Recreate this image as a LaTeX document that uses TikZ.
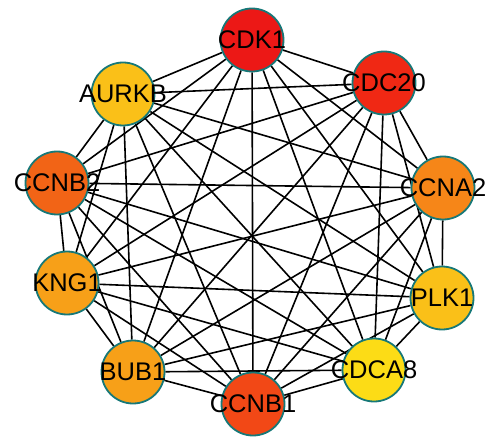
\documentclass[tikz,border=0pt]{standalone}
\usepackage{fontspec}
\setmainfont{Liberation Sans}
\usetikzlibrary{backgrounds}

\tikzset{
  gene/.style={circle, draw=teal, line width=1.8pt, minimum size=63pt, inner sep=0pt},
  genetext/.style={font=\fontsize{25.5}{26}\selectfont, text=black, inner sep=0pt},
  edge/.style={draw=black, line width=1.6pt}
}

\begin{document}
\begin{tikzpicture}[x=1pt, y=-1pt]

% Colors
\definecolor{teal}{RGB}{22,120,120}     % border
\definecolor{cdkred}{RGB}{236,24,22}    % CDK1
\definecolor{cdcred}{RGB}{240,40,20}    % CDC20
\definecolor{ccnbred}{RGB}{242,72,22}   % CCNB1
\definecolor{ccnborange}{RGB}{242,100,22} % CCNB2
\definecolor{ccnaorange}{RGB}{246,134,24} % CCNA2
\definecolor{kngorange}{RGB}{247,160,24}  % KNG1, BUB1
\definecolor{aurkyellow}{RGB}{250,192,24} % AURKB, PLK1
\definecolor{cdcayellow}{RGB}{252,220,22} % CDCA8

\useasboundingbox (0,0) rectangle (489,438);

% === Genes ===
\node[gene, fill=cdkred,     label={[genetext]center:CDK1}]  (cdk1)  at (252,40)  {};
\node[gene, fill=cdcred,     label={[genetext]center:CDC20}] (cdc20) at (384,83)  {};
\node[gene, fill=ccnaorange, label={[genetext]center:CCNA2}] (ccna2) at (443,188) {};
\node[gene, fill=aurkyellow, label={[genetext]center:PLK1}]  (plk1)  at (442,298) {};
\node[gene, fill=cdcayellow, label={[genetext]center:CDCA8}] (cdca8) at (374,370) {};
\node[gene, fill=ccnbred,    label={[genetext]center:CCNB1}] (ccnb1) at (253,404) {};
\node[gene, fill=kngorange,  label={[genetext]center:BUB1}]  (bub1)  at (133,372) {};
\node[gene, fill=kngorange,  label={[genetext]center:KNG1}]  (kng1)  at (67,283)  {};
\node[gene, fill=ccnborange, label={[genetext]center:CCNB2}] (ccnb2) at (57,183)  {};
\node[gene, fill=aurkyellow, label={[genetext]center:AURKB}] (aurkb) at (123,94)  {};

% === Interactions (every pair) ===
\begin{pgfonlayer}{background}
\foreach \a [count=\i] in {cdk1,cdc20,ccna2,plk1,cdca8,ccnb1,bub1,kng1,ccnb2,aurkb}{
  \foreach \b [count=\j] in {cdk1,cdc20,ccna2,plk1,cdca8,ccnb1,bub1,kng1,ccnb2,aurkb}{
    \ifnum\j>\i \draw[edge] (\a) -- (\b); \fi
  }
}
\end{pgfonlayer}

\end{tikzpicture}
\end{document}
